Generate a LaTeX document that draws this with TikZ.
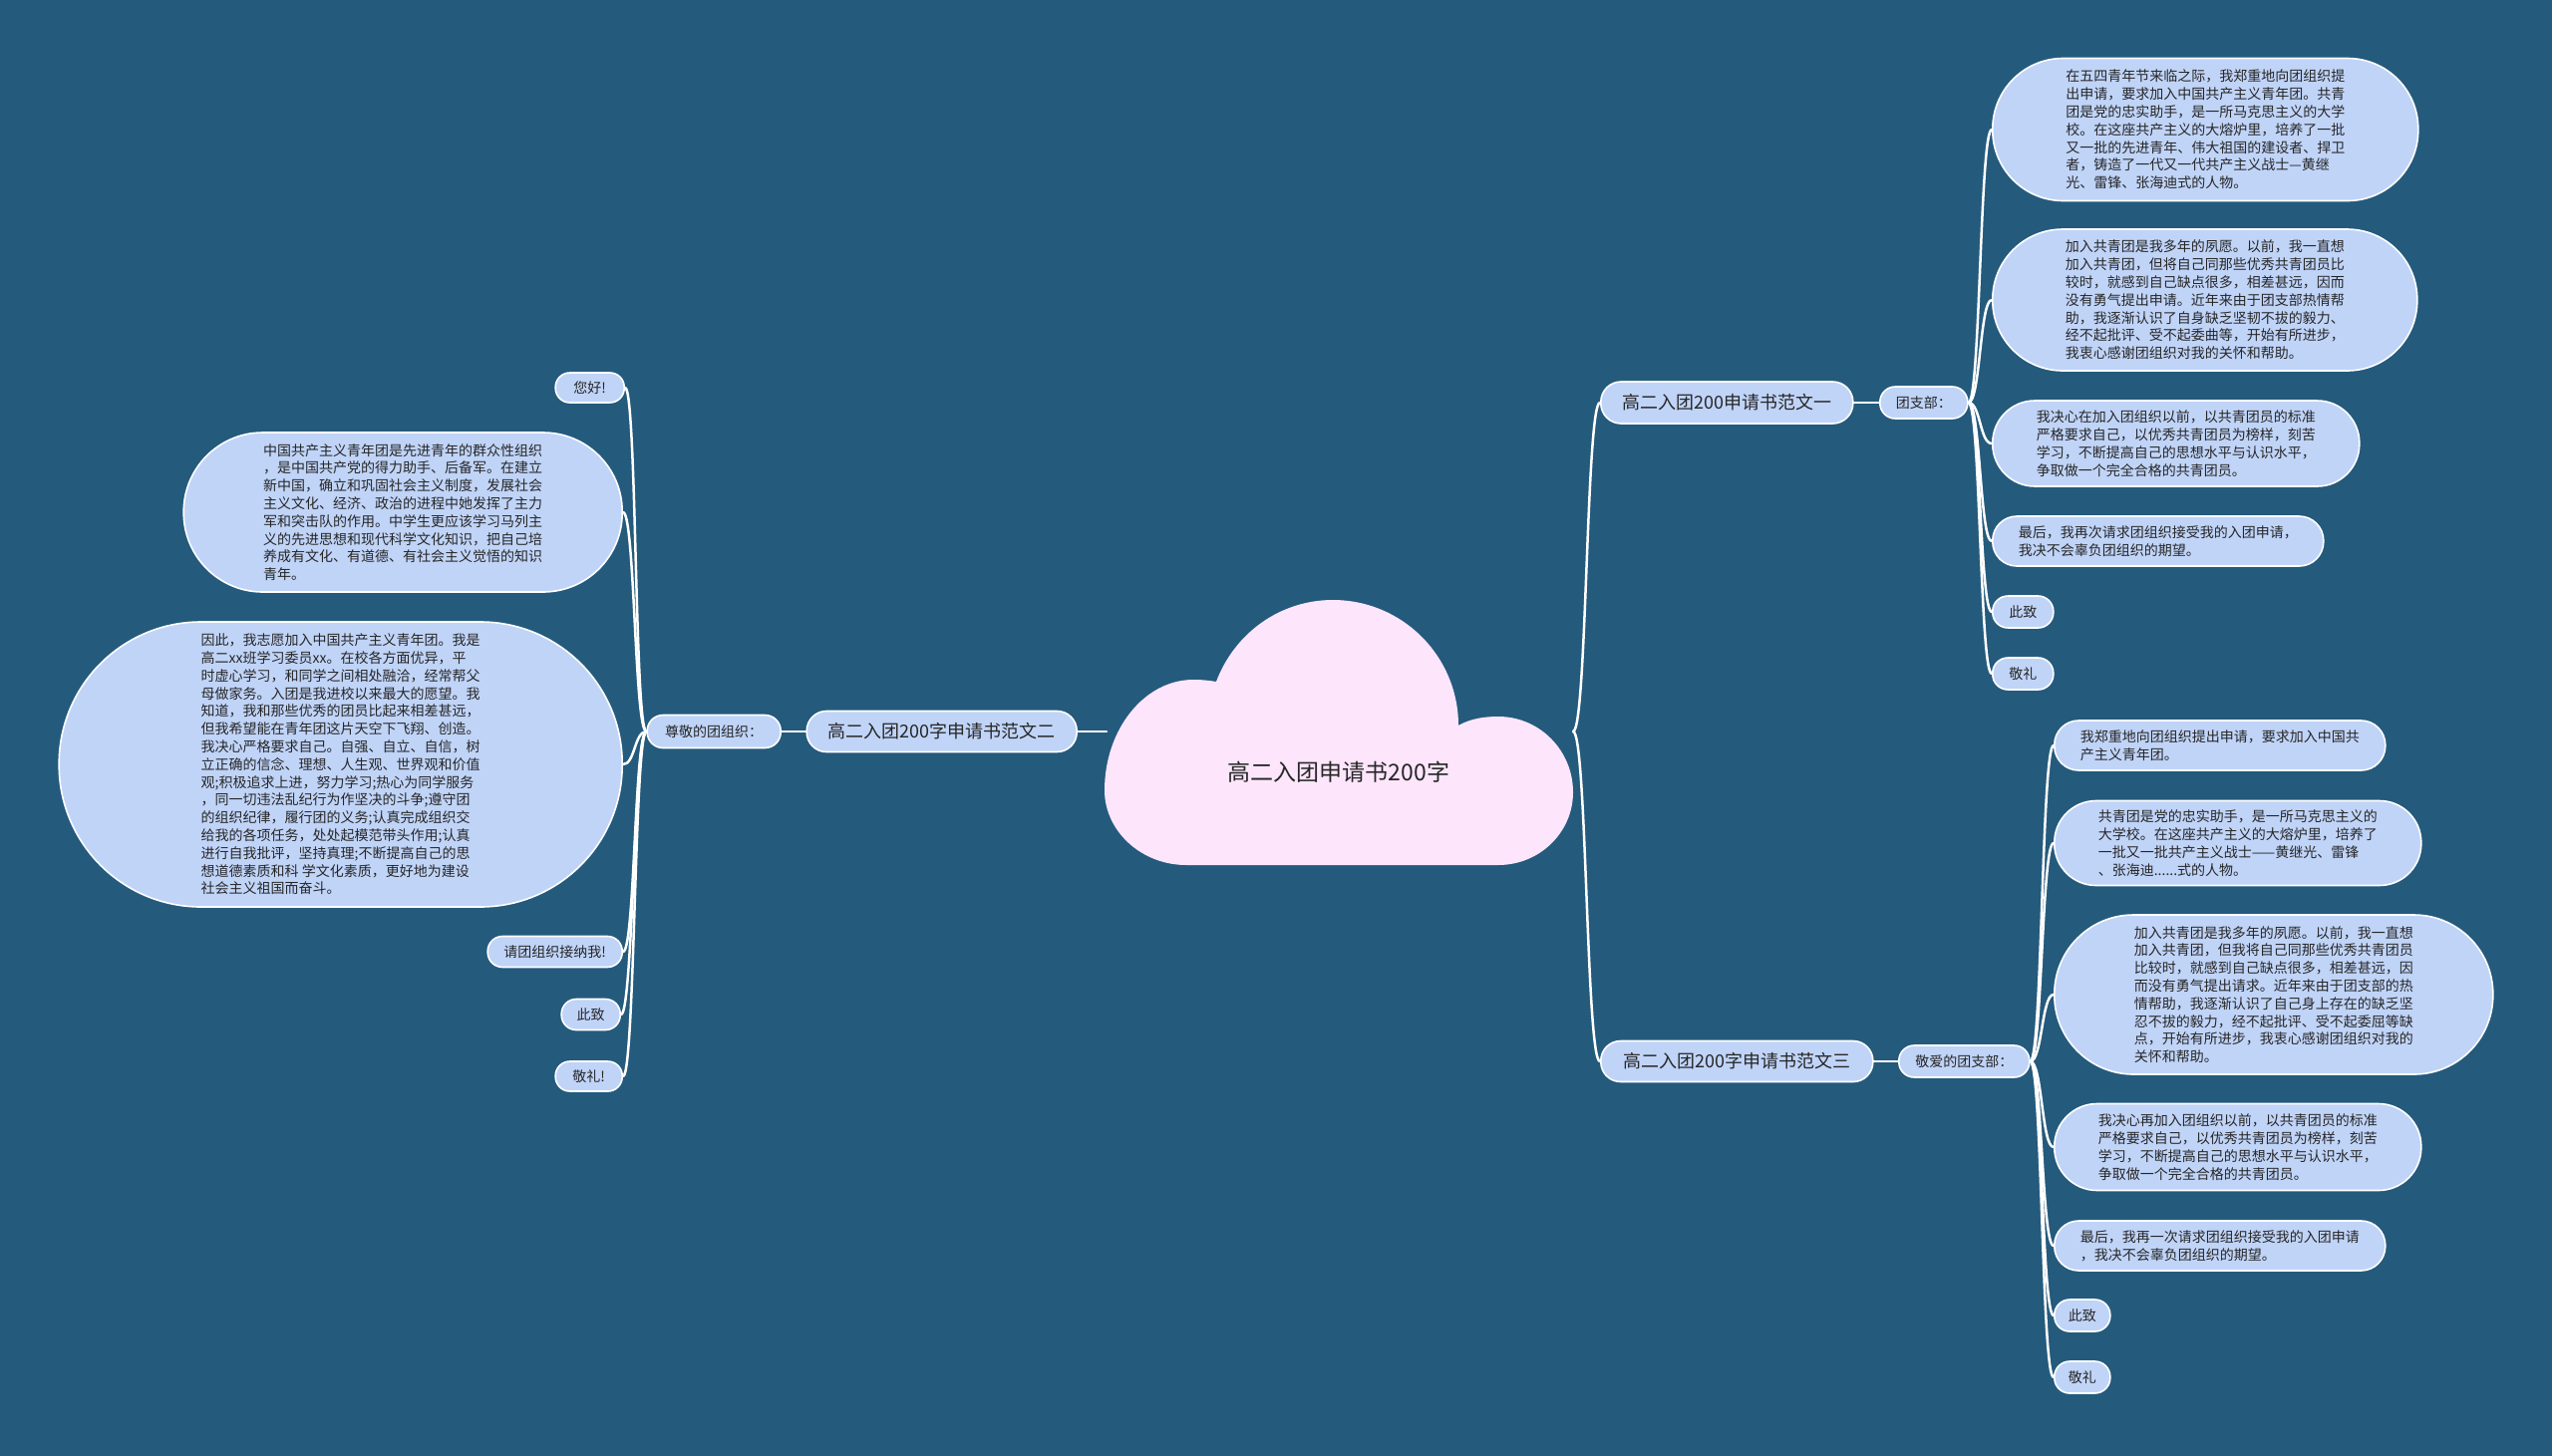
\documentclass[tikz,border=0pt]{standalone}
\usepackage{fontspec}
\setmainfont{Noto Sans CJK SC}
\definecolor{bgblue}{HTML}{245A7C}
\definecolor{nodefill}{HTML}{C0D4F8}
\definecolor{cloudfill}{HTML}{FDE6FC}
\definecolor{ink}{HTML}{262626}
\pgfdeclarelayer{back}
\pgfdeclarelayer{edges}
\pgfsetlayers{back,edges,main}
\begin{document}
\begin{tikzpicture}[x=1pt,y=-1pt,
  conn/.style={draw=white,line width=2.5pt,line cap=round},
  box/.style={draw=white,line width=1.6pt,fill=nodefill,text=ink,inner sep=0pt,align=left},
  pill/.style 2 args={box,minimum width=#1pt,minimum height=#2pt,rounded corners=#2*0.5pt-0.6pt},
  bigtxt/.style={font=\fontsize{18}{22}\selectfont},
  smalltxt/.style={font=\fontsize{14}{17.8}\selectfont},
]
\useasboundingbox (0,0) rectangle (2560,1460);
\begin{pgfonlayer}{back}
\fill[bgblue] (-6,-6) rectangle (2566,1466);
\end{pgfonlayer}

% central cloud
\fill[cloudfill] (1190,868) .. controls (1145,868) and (1108,834) .. (1108,793)
 .. controls (1108,732) and (1148,682) .. (1197,682)
 .. controls (1207,682) and (1214,683) .. (1220,684)
 .. controls (1238.5,634.9) and (1284.5,602) .. (1337,602)
 .. controls (1406.6,602) and (1463,658.4) .. (1463,728)
 .. controls (1475,721) and (1489,719) .. (1503,719)
 .. controls (1544.4,719) and (1578,753) .. (1578,795)
 .. controls (1578,835.3) and (1544.4,868) .. (1503,868)
 -- cycle;
\node[font=\fontsize{23}{28}\selectfont,text=ink] (root) at (1343,775) {高二入团申请书200字};
\coordinate (cloudL) at (1110,734);
\coordinate (cloudR) at (1578,734);

% ---------- branch one (right top)
\node[pill={253}{42},bigtxt,anchor=west] (b1) at (1605,404) {高二入团200申请书范文一};
\node[pill={88}{32},smalltxt,anchor=west] (t1) at (1885,404) {团支部：};
\node[pill={427}{143},smalltxt,anchor=west] (r1) at (1998,130) {在五四青年节来临之际，我郑重地向团组织提\\出申请，要求加入中国共产主义青年团。共青\\团是党的忠实助手，是一所马克思主义的大学\\校。在这座共产主义的大熔炉里，培养了一批\\又一批的先进青年、伟大祖国的建设者、捍卫\\者，铸造了一代又一代共产主义战士—黄继\\光、雷锋、张海迪式的人物。};
\node[pill={426}{142},smalltxt,anchor=west] (r2) at (1998,301) {加入共青团是我多年的夙愿。以前，我一直想\\加入共青团，但将自己同那些优秀共青团员比\\较时，就感到自己缺点很多，相差甚远，因而\\没有勇气提出申请。近年来由于团支部热情帮\\助，我逐渐认识了自身缺乏坚韧不拔的毅力、\\经不起批评、受不起委曲等，开始有所进步，\\我衷心感谢团组织对我的关怀和帮助。};
\node[pill={368}{86},smalltxt,anchor=west] (r3) at (1998,445) {我决心在加入团组织以前，以共青团员的标准\\严格要求自己，以优秀共青团员为榜样，刻苦\\学习，不断提高自己的思想水平与认识水平，\\争取做一个完全合格的共青团员。};
\node[pill={332}{50},smalltxt,anchor=west] (r4) at (1998,543) {最后，我再次请求团组织接受我的入团申请，\\我决不会辜负团组织的期望。};
\node[pill={61}{32},smalltxt,anchor=west] (r5) at (1998,614) {此致};
\node[pill={61}{32},smalltxt,anchor=west] (r6) at (1998,676) {敬礼};

% ---------- branch three (right bottom)
\node[pill={273}{41},bigtxt,anchor=west] (b3) at (1605,1065) {高二入团200字申请书范文三};
\node[pill={131}{32},smalltxt,anchor=west] (t3) at (1904,1065) {敬爱的团支部：};
\node[pill={332}{50},smalltxt,anchor=west] (s1) at (2060,748) {我郑重地向团组织提出申请，要求加入中国共\\产主义青年团。};
\node[pill={368}{85},smalltxt,anchor=west] (s2) at (2060,846) {共青团是党的忠实助手，是一所马克思主义的\\大学校。在这座共产主义的大熔炉里，培养了\\一批又一批共产主义战士——黄继光、雷锋\\、张海迪......式的人物。};
\node[pill={440}{160},smalltxt,anchor=west] (s3) at (2060,998) {加入共青团是我多年的夙愿。以前，我一直想\\加入共青团，但我将自己同那些优秀共青团员\\比较时，就感到自己缺点很多，相差甚远，因\\而没有勇气提出请求。近年来由于团支部的热\\情帮助，我逐渐认识了自己身上存在的缺乏坚\\忍不拔的毅力，经不起批评、受不起委屈等缺\\点，开始有所进步，我衷心感谢团组织对我的\\关怀和帮助。};
\node[pill={368}{87},smalltxt,anchor=west] (s4) at (2060,1151) {我决心再加入团组织以前，以共青团员的标准\\严格要求自己，以优秀共青团员为榜样，刻苦\\学习，不断提高自己的思想水平与认识水平，\\争取做一个完全合格的共青团员。};
\node[pill={332}{50},smalltxt,anchor=west] (s5) at (2060,1250) {最后，我再一次请求团组织接受我的入团申请\\，我决不会辜负团组织的期望。};
\node[pill={56}{32},smalltxt,anchor=west] (s6) at (2060,1320) {此致};
\node[pill={56}{32},smalltxt,anchor=west] (s7) at (2060,1382) {敬礼};

% ---------- branch two (left)
\node[pill={271}{41},bigtxt,anchor=east] (b2) at (1081,734) {高二入团200字申请书范文二};
\node[pill={134}{33},smalltxt,anchor=east] (t2) at (784,734) {尊敬的团组织：};
\node[pill={69}{30},smalltxt,anchor=east] (l1) at (627,389) {您好!};
\node[pill={440}{160},smalltxt,anchor=east] (l2) at (625,514) {中国共产主义青年团是先进青年的群众性组织\\，是中国共产党的得力助手、后备军。在建立\\新中国，确立和巩固社会主义制度，发展社会\\主义文化、经济、政治的进程中她发挥了主力\\军和突击队的作用。中学生更应该学习马列主\\义的先进思想和现代科学文化知识，把自己培\\养成有文化、有道德、有社会主义觉悟的知识\\青年。};
\node[pill={565}{286},smalltxt,anchor=east] (l3) at (625,767) {因此，我志愿加入中国共产主义青年团。我是\\高二xx班学习委员xx。在校各方面优异，平\\时虚心学习，和同学之间相处融洽，经常帮父\\母做家务。入团是我进校以来最大的愿望。我\\知道，我和那些优秀的团员比起来相差甚远，\\但我希望能在青年团这片天空下飞翔、创造。\\我决心严格要求自己。自强、自立、自信，树\\立正确的信念、理想、人生观、世界观和价值\\观;积极追求上进，努力学习;热心为同学服务\\，同一切违法乱纪行为作坚决的斗争;遵守团\\的组织纪律，履行团的义务;认真完成组织交\\给我的各项任务，处处起模范带头作用;认真\\进行自我批评，坚持真理;不断提高自己的思\\想道德素质和科 学文化素质，更好地为建设\\社会主义祖国而奋斗。};
\node[pill={135}{31},smalltxt,anchor=east] (l4) at (625,955) {请团组织接纳我!};
\node[pill={59}{31},smalltxt,anchor=east] (l5) at (623,1018) {此致};
\node[pill={67}{30},smalltxt,anchor=east] (l6) at (625,1080) {敬礼!};

\begin{pgfonlayer}{edges}
% trunk
\draw[conn] (b2.east) -- (cloudL);
\draw[conn] (cloudR) .. controls +(14,0) and +(-14,0) .. (b1.west);
\draw[conn] (cloudR) .. controls +(14,0) and +(-14,0) .. (b3.west);
% branch one
\draw[conn] (b1.east) -- (t1.west);
\foreach \c in {r1,r2,r3,r4,r5,r6}
  \draw[conn] (t1.east) .. controls +(12,0) and +(-12,0) .. (\c.west);
% branch three
\draw[conn] (b3.east) -- (t3.west);
\foreach \c in {s1,s2,s3,s4,s5,s6,s7}
  \draw[conn] (t3.east) .. controls +(12,0) and +(-12,0) .. (\c.west);
% branch two
\draw[conn] (t2.east) -- (b2.west);
\foreach \c in {l1,l2,l3,l4,l5,l6}
  \draw[conn] (t2.west) .. controls +(-12,0) and +(12,0) .. (\c.east);
\end{pgfonlayer}
\end{tikzpicture}
\end{document}
